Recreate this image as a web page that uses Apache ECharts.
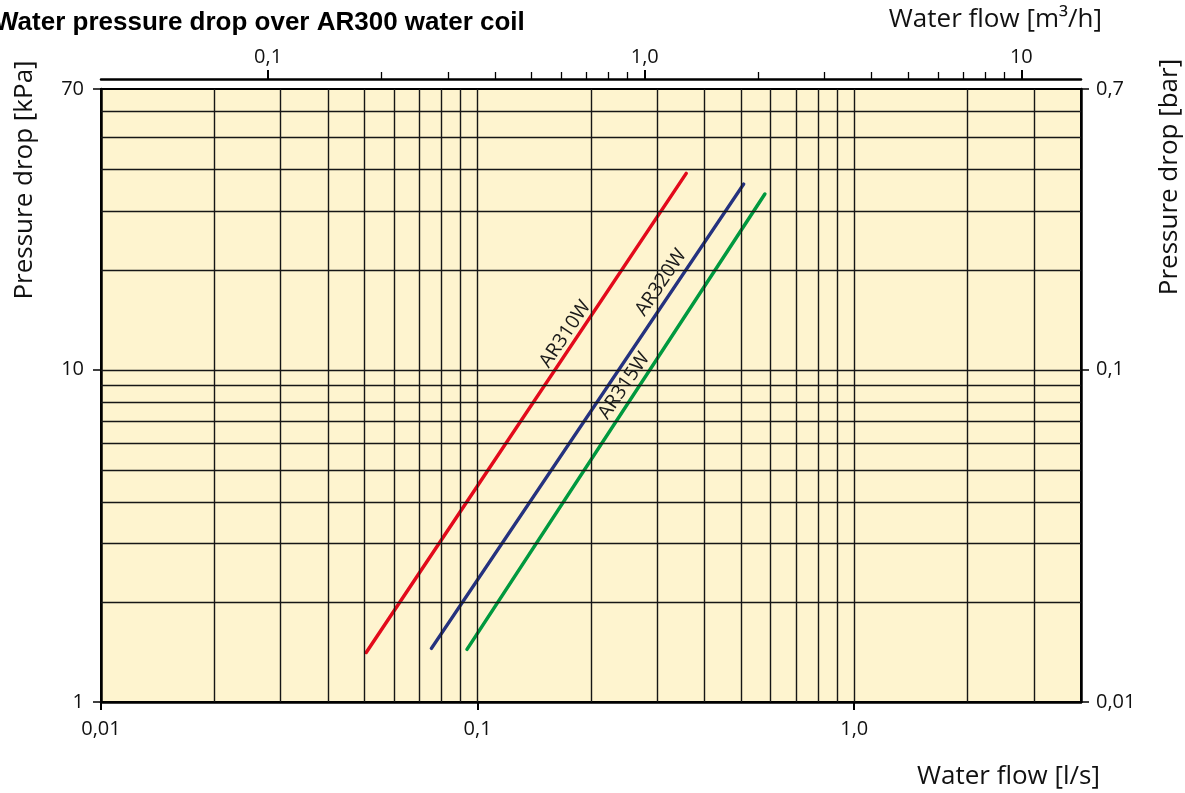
<!DOCTYPE html>
<html>
<head>
<meta charset="utf-8">
<title>Water pressure drop over AR300 water coil</title>
<script src="https://cdn.jsdelivr.net/npm/echarts@6/dist/echarts.min.js"></script>
<style>
  html, body { margin: 0; padding: 0; background: #fff; }
  #pressure-chart { width: 1185px; height: 793px; }
</style>
</head>
<body>
<div id="pressure-chart"></div>
<script>
// ==============================================================
// data (log / log)
// ==============================================================
var flowMin = 0.01, flowMax = 4;        // l/s
var dropMin = 1, dropMax = 70;          // kPa
var m3hPerLs = 3.6;                     // 1 l/s = 3.6 m3/h
var kPaPerBar = 100;                    // 1 bar = 100 kPa

// bottom axis l/s
var flowTicks = [0.01, 0.1, 1];
var flowTickText = ['0,01', '0,1', '1,0'];
var flowGrid = [0.02, 0.03, 0.04, 0.05, 0.06, 0.07, 0.08, 0.09, 0.1,
                0.2, 0.3, 0.4, 0.5, 0.6, 0.7, 0.8, 0.9, 1, 2, 3];

// top axis m3/h
var m3hTicks = [0.1, 1, 10];
var m3hTickText = ['0,1', '1,0', '10'];
var m3hMinor = [0.2, 0.3, 0.4, 0.5, 0.6, 0.7, 0.8, 0.9,
                2, 3, 4, 5, 6, 7, 8, 9];

// left axis kPa, right axis bar
var dropTicks = [1, 10, 70];
var dropTickText = ['1', '10', '70'];
var dropGrid = [2, 3, 4, 5, 6, 7, 8, 9, 10, 20, 30, 40, 50, 60];
var barTicks = [0.01, 0.1, 0.7];
var barTickText = ['0,01', '0,1', '0,7'];

// coils : [flow l/s, drop kPa] at both ends of each line
var coilNames = ['AR310W', 'AR320W', 'AR315W'];
var ar310wFlow = [0.0506, 0.358];
var ar310wDrop = [1.41, 39.0];
var ar320wFlow = [0.0754, 0.5085];
var ar320wDrop = [1.45, 36.2];
var ar315wFlow = [0.0937, 0.579];
var ar315wDrop = [1.44, 33.8];

// where the coil names sit on the diagram
var labelFlow = [0.171, 0.307, 0.245];
var labelDrop = [12.8, 18.3, 8.95];

var coilColors = ['#e30a1b', '#25327f', '#00993f'];

// ==============================================================
function pairs(xs, ys) {
    var out = [];
    for (var i = 0; i < xs.length; i++) out.push([xs[i], ys[i]]);
    return out;
}

function tickText(values, texts) {
    return function (v) {
        for (var i = 0; i < values.length; i++) {
            if (Math.abs(v - values[i]) / values[i] < 1e-6) return texts[i];
        }
        return '';
    };
}

var regular = '"Open Sans", "Liberation Sans", sans-serif';
var bold = '"Liberation Sans", Arial, sans-serif';

var coilFlow = [ar310wFlow, ar320wFlow, ar315wFlow];
var coilDrop = [ar310wDrop, ar320wDrop, ar315wDrop];

var myChart = echarts.init(document.getElementById('pressure-chart'));

var series = [
    {
        // grid lines of the log paper
        name: 'grid',
        type: 'line',
        data: [],
        xAxisIndex: 0,
        yAxisIndex: 0,
        z: 1,
        silent: true,
        markLine: {
            silent: true,
            symbol: ['none', 'none'],
            label: { show: false },
            lineStyle: { color: '#161616', width: 1.4, type: 'solid' },
            data: flowGrid.map(function (v) { return { xAxis: v }; })
                .concat(dropGrid.map(function (v) { return { yAxis: v }; }))
        }
    }
];

for (var i = 0; i < coilNames.length; i++) {
    series.push({
        name: coilNames[i],
        type: 'line',
        xAxisIndex: 0,
        yAxisIndex: 0,
        z: 3,
        showSymbol: false,
        symbol: 'none',
        color: coilColors[i],
        lineStyle: { width: 3.5, color: coilColors[i], cap: 'round' },
        data: pairs(coilFlow[i], coilDrop[i]),
        markPoint: {
            silent: true,
            symbolSize: 0,
            label: {
                show: true,
                position: 'inside',
                rotate: 56,
                color: '#1a1a1a',
                fontFamily: regular,
                fontSize: 19.5
            },
            data: [{ coord: [labelFlow[i], labelDrop[i]], value: coilNames[i],
                     label: { formatter: coilNames[i] } }]
        }
    });
}

var option = {
    animation: false,
    backgroundColor: '#ffffff',
    grid: {
        left: 101, right: 104, top: 89, bottom: 91,
        show: true,
        backgroundColor: '#fef4cf',
        borderColor: '#000',
        borderWidth: 2
    },
    title: {
        text: 'Water pressure drop over AR300 water coil',
        left: -11,
        top: 5,
        textStyle: { fontFamily: bold, fontWeight: 'bold', fontSize: 26, color: '#000' }
    },
    graphic: [
        { type: 'text', x: 1102, y: 20,
          style: { text: 'Water flow [m³/h]', align: 'right', verticalAlign: 'middle',
                   font: '26px ' + regular, fill: '#111' } },
        { type: 'text', x: 1100, y: 777,
          style: { text: 'Water flow [l/s]', align: 'right', verticalAlign: 'middle',
                   font: '26px ' + regular, fill: '#111' } },
        { type: 'text', x: 25, y: 180, rotation: Math.PI / 2,
          style: { text: 'Pressure drop [kPa]', align: 'center', verticalAlign: 'middle',
                   font: '26px ' + regular, fill: '#111' } },
        { type: 'text', x: 1170, y: 177, rotation: Math.PI / 2,
          style: { text: 'Pressure drop [bar]', align: 'center', verticalAlign: 'middle',
                   font: '26px ' + regular, fill: '#111' } }
    ],
    xAxis: [
        {
            type: 'log', logBase: 10, position: 'bottom',
            min: flowMin, max: flowMax,
            axisLine: { show: true, lineStyle: { color: '#000', width: 2.5 } },
            axisTick: { show: true, customValues: flowTicks, length: 8,
                        lineStyle: { color: '#000', width: 2 } },
            axisLabel: { show: true, customValues: flowTicks, margin: 17,
                         formatter: tickText(flowTicks, flowTickText),
                         fontFamily: regular, fontSize: 20, color: '#111' },
            splitLine: { show: false }
        },
        {
            type: 'log', logBase: 10, position: 'top', offset: 10,
            min: flowMin * m3hPerLs, max: flowMax * m3hPerLs,
            axisLine: { show: true, onZero: false, lineStyle: { color: '#000', width: 2.5 } },
            axisTick: { show: true, customValues: m3hTicks, length: 9,
                        lineStyle: { color: '#000', width: 2 } },
            axisLabel: { show: true, customValues: m3hTicks, margin: 12,
                         formatter: tickText(m3hTicks, m3hTickText),
                         fontFamily: regular, fontSize: 20, color: '#111' },
            splitLine: { show: false }
        },
        {
            type: 'log', logBase: 10, position: 'top', offset: 10,
            min: flowMin * m3hPerLs, max: flowMax * m3hPerLs,
            axisLine: { show: false },
            axisTick: { show: true, customValues: m3hMinor, length: 7,
                        lineStyle: { color: '#000', width: 1.3 } },
            axisLabel: { show: false },
            splitLine: { show: false }
        }
    ],
    yAxis: [
        {
            type: 'log', logBase: 10, position: 'left',
            min: dropMin, max: dropMax,
            axisLine: { show: true, onZero: false, lineStyle: { color: '#000', width: 2.5 } },
            axisTick: { show: true, customValues: dropTicks, length: 8,
                        lineStyle: { color: '#000', width: 1.5 } },
            axisLabel: { show: true, customValues: dropTicks, margin: 17,
                         formatter: tickText(dropTicks, dropTickText),
                         fontFamily: regular, fontSize: 20, color: '#111' },
            splitLine: { show: false }
        },
        {
            type: 'log', logBase: 10, position: 'right',
            min: dropMin / kPaPerBar, max: dropMax / kPaPerBar,
            axisLine: { show: true, onZero: false, lineStyle: { color: '#000', width: 2.5 } },
            axisTick: { show: true, customValues: barTicks, length: 8,
                        lineStyle: { color: '#000', width: 1.5 } },
            axisLabel: { show: true, customValues: barTicks, margin: 15,
                         formatter: tickText(barTicks, barTickText),
                         fontFamily: regular, fontSize: 20, color: '#111' },
            splitLine: { show: false }
        }
    ],
    series: series
};

// use configuration item and data specified to show chart
myChart.setOption(option, true);
</script>
</body>
</html>
